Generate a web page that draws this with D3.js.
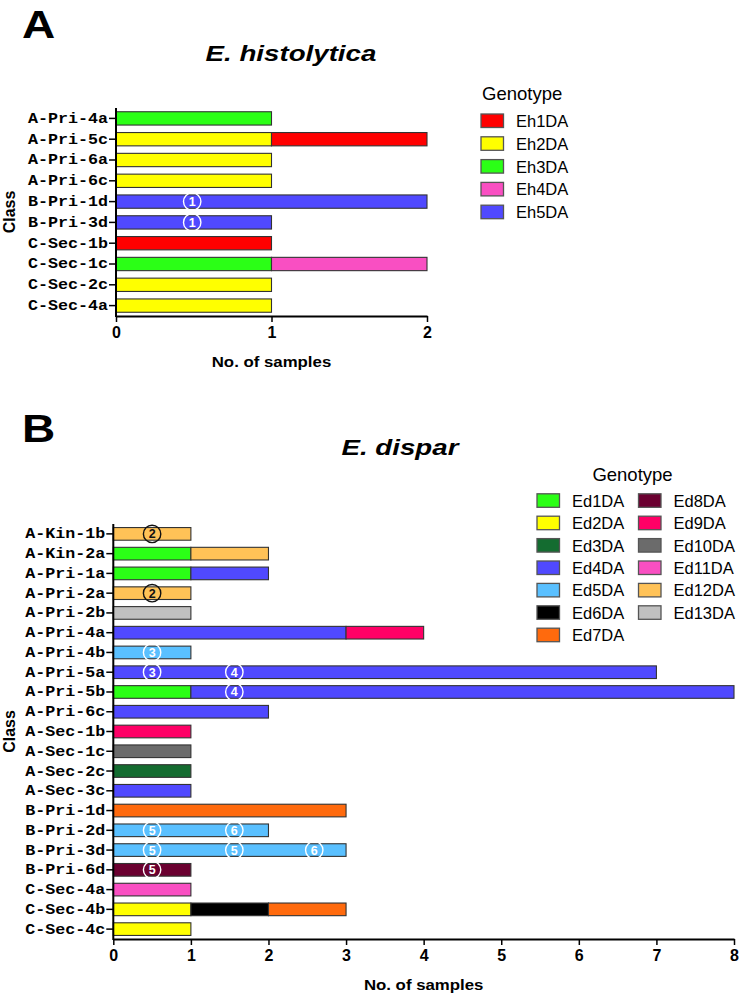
<!DOCTYPE html>
<html>
<head>
<meta charset="utf-8">
<script src="https://cdn.jsdelivr.net/npm/d3@7"></script>
<style>
  body { margin: 0; background: #fff; }
  svg { display: block; font-family: "Liberation Sans", Arial, sans-serif; }
</style>
</head>
<body>
<svg id="chart"></svg>
<script>
// ---- Panel A data (E. histolytica) ----
const classesA = ["A-Pri-4a", "A-Pri-5c", "A-Pri-6a", "A-Pri-6c", "B-Pri-1d",
                  "B-Pri-3d", "C-Sec-1b", "C-Sec-1c", "C-Sec-2c", "C-Sec-4a"];
const genotypesA = ["Eh1DA", "Eh2DA", "Eh3DA", "Eh4DA", "Eh5DA"];
// [class, genotype, samples] in stacking order
const segmentsA = [
  ["A-Pri-4a", "Eh3DA", 1],
  ["A-Pri-5c", "Eh2DA", 1], ["A-Pri-5c", "Eh1DA", 1],
  ["A-Pri-6a", "Eh2DA", 1],
  ["A-Pri-6c", "Eh2DA", 1],
  ["B-Pri-1d", "Eh5DA", 2],
  ["B-Pri-3d", "Eh5DA", 1],
  ["C-Sec-1b", "Eh1DA", 1],
  ["C-Sec-1c", "Eh3DA", 1], ["C-Sec-1c", "Eh4DA", 1],
  ["C-Sec-2c", "Eh2DA", 1],
  ["C-Sec-4a", "Eh2DA", 1]
];
// numbered markers: [class, position in samples, label]
const markersA = [["B-Pri-1d", 0.49, "1"], ["B-Pri-3d", 0.49, "1"]];
const ticksA = [0, 1, 2];

// ---- Panel B data (E. dispar) ----
const classesB = ["A-Kin-1b", "A-Kin-2a", "A-Pri-1a", "A-Pri-2a", "A-Pri-2b",
                  "A-Pri-4a", "A-Pri-4b", "A-Pri-5a", "A-Pri-5b", "A-Pri-6c",
                  "A-Sec-1b", "A-Sec-1c", "A-Sec-2c", "A-Sec-3c", "B-Pri-1d",
                  "B-Pri-2d", "B-Pri-3d", "B-Pri-6d", "C-Sec-4a", "C-Sec-4b", "C-Sec-4c"];
const genotypesB = ["Ed1DA", "Ed2DA", "Ed3DA", "Ed4DA", "Ed5DA", "Ed6DA", "Ed7DA",
                    "Ed8DA", "Ed9DA", "Ed10DA", "Ed11DA", "Ed12DA", "Ed13DA"];
const segmentsB = [
  ["A-Kin-1b", "Ed12DA", 1],
  ["A-Kin-2a", "Ed1DA", 1], ["A-Kin-2a", "Ed12DA", 1],
  ["A-Pri-1a", "Ed1DA", 1], ["A-Pri-1a", "Ed4DA", 1],
  ["A-Pri-2a", "Ed12DA", 1],
  ["A-Pri-2b", "Ed13DA", 1],
  ["A-Pri-4a", "Ed4DA", 3], ["A-Pri-4a", "Ed9DA", 1],
  ["A-Pri-4b", "Ed5DA", 1],
  ["A-Pri-5a", "Ed4DA", 7],
  ["A-Pri-5b", "Ed1DA", 1], ["A-Pri-5b", "Ed4DA", 7],
  ["A-Pri-6c", "Ed4DA", 2],
  ["A-Sec-1b", "Ed9DA", 1],
  ["A-Sec-1c", "Ed10DA", 1],
  ["A-Sec-2c", "Ed3DA", 1],
  ["A-Sec-3c", "Ed4DA", 1],
  ["B-Pri-1d", "Ed7DA", 3],
  ["B-Pri-2d", "Ed5DA", 2],
  ["B-Pri-3d", "Ed5DA", 3],
  ["B-Pri-6d", "Ed8DA", 1],
  ["C-Sec-4a", "Ed11DA", 1],
  ["C-Sec-4b", "Ed2DA", 1], ["C-Sec-4b", "Ed6DA", 1], ["C-Sec-4b", "Ed7DA", 1],
  ["C-Sec-4c", "Ed2DA", 1]
];
const markersB = [
  ["A-Kin-1b", 0.5, "2"], ["A-Pri-2a", 0.5, "2"],
  ["A-Pri-4b", 0.5, "3"], ["A-Pri-5a", 0.5, "3"],
  ["A-Pri-5a", 1.56, "4"], ["A-Pri-5b", 1.56, "4"],
  ["B-Pri-2d", 0.5, "5"], ["B-Pri-2d", 1.56, "6"],
  ["B-Pri-3d", 0.5, "5"], ["B-Pri-3d", 1.56, "5"], ["B-Pri-3d", 2.59, "6"],
  ["B-Pri-6d", 0.5, "5"]
];
const ticksB = [0, 1, 2, 3, 4, 5, 6, 7, 8];

// ---- colours ----
const colorsA = ["#ff0000", "#ffff00", "#2bff16", "#f94fc2", "#5049ff"];
const colorsB = ["#2bff16", "#ffff00", "#146c30", "#5049ff", "#5ac0ff", "#000000", "#ff6a0d",
                 "#6b0030", "#ff0066", "#6b6b6b", "#f94fc2", "#ffc257", "#c0c0c0"];
const darkInk = new Set(["Ed12DA"]);   // markers drawn in black on these

const svg = d3.select("#chart").attr("width", 739).attr("height", 996);

// widen text horizontally by factor k (the reference is slightly stretched)
function stretch(sel, k) {
  sel.each(function() {
    const w = this.getComputedTextLength();
    d3.select(this).attr("textLength", w * k).attr("lengthAdjust", "spacingAndGlyphs");
  });
}

function drawPanel(p) {
  const g = svg.append("g");
  const color = d3.scaleOrdinal().domain(p.genotypes).range(p.colors);

  const x = d3.scaleLinear().domain(p.xDomain).range([p.left, p.right]);
  const y = d3.scaleBand().domain(p.classes).range([p.top, p.bottom])
    .paddingInner(0.36).paddingOuter(0.18);

  // stack segments per class
  const offset = {};
  const bars = p.segments.map(([c, gt, n]) => {
    const x0 = offset[c] || 0;
    offset[c] = x0 + n;
    return {c, gt, x0, x1: x0 + n};
  });

  g.selectAll("rect.bar")
    .data(bars)
    .join("rect")
    .attr("class", "bar")
    .attr("x", d => x(d.x0))
    .attr("y", d => y(d.c))
    .attr("width", d => x(d.x1) - x(d.x0))
    .attr("height", y.bandwidth())
    .attr("fill", d => color(d.gt))
    .attr("stroke", "#333")
    .attr("stroke-width", 1.1);

  // numbered circles
  const mk = g.selectAll("g.mk")
    .data(p.markers.map(([c, v, t]) => {
      const seg = bars.find(b => b.c === c && v >= b.x0 && v <= b.x1);
      return {c, v, t, ink: darkInk.has(seg.gt) ? "#111" : "#fff"};
    }))
    .join("g")
    .attr("transform", d => `translate(${x(d.v)},${y(d.c) + y.bandwidth() / 2})`);
  mk.append("circle").attr("r", 8.7).attr("fill", "none")
    .attr("stroke", d => d.ink).attr("stroke-width", 1.4);
  mk.append("text").attr("text-anchor", "middle").attr("dy", "0.36em")
    .attr("fill", d => d.ink).style("font-size", "12.5px").style("font-weight", "bold")
    .text(d => d.t);

  // y axis
  const ya = g.append("g")
    .attr("transform", `translate(${p.left},0)`)
    .call(d3.axisLeft(y).tickSize(7).tickSizeOuter(0).tickPadding(1));
  ya.select(".domain").attr("stroke", "#000").attr("stroke-width", 2)
    .attr("d", `M0,${p.top}V${p.bottom + 1}`);
  ya.selectAll(".tick line").attr("stroke", "#000").attr("stroke-width", 1.5);
  ya.selectAll(".tick text")
    .attr("fill", "#000")
    .style("font-family", "'Liberation Mono', 'Courier New', monospace")
    .style("font-weight", "bold")
    .style("font-size", "14px")
    .call(stretch, 1.19);

  // x axis
  const xa = g.append("g")
    .attr("transform", `translate(0,${p.bottom})`)
    .call(d3.axisBottom(x).tickValues(p.ticks).tickFormat(d3.format("d"))
      .tickSize(6).tickSizeOuter(0).tickPadding(5));
  xa.select(".domain").attr("stroke", "#000").attr("stroke-width", 2);
  xa.selectAll(".tick line").attr("stroke", "#000").attr("stroke-width", 1.5);
  xa.selectAll(".tick text").attr("fill", "#000")
    .style("font-size", "16px").style("font-weight", "bold");

  // axis titles
  g.append("text")
    .attr("x", (p.left + p.right) / 2).attr("y", p.bottom + 51)
    .attr("text-anchor", "middle")
    .style("font-size", "15px").style("font-weight", "bold")
    .text("No. of samples").call(stretch, 1.12);

  g.append("text")
    .attr("transform", `translate(15,${(p.top + p.bottom) / 2}) rotate(-90)`)
    .attr("text-anchor", "middle")
    .style("font-size", "16px").style("font-weight", "bold")
    .text("Class");

  // panel letter and title
  g.append("text")
    .attr("x", 22).attr("y", p.letterY)
    .style("font-size", "39px").style("font-weight", "bold")
    .text(p.letter).call(stretch, 1.18);

  g.append("text")
    .attr("x", p.titleX).attr("y", p.titleY)
    .attr("text-anchor", "middle")
    .style("font-size", "22.5px").style("font-weight", "bold").style("font-style", "italic")
    .text(p.title).call(stretch, 1.23);

  // legend
  const lg = g.append("g");
  lg.append("text")
    .attr("x", p.legendTitleX).attr("y", p.legendTitleY)
    .attr("text-anchor", p.legendTitleAnchor)
    .style("font-size", "18.5px")
    .text("Genotype");

  const item = lg.selectAll("g.item")
    .data(p.genotypes)
    .join("g")
    .attr("transform", (d, i) => {
      const col = Math.floor(i / p.perCol), row = i % p.perCol;
      return `translate(${p.legendCols[col]},${p.legendY0 + row * p.legendStep})`;
    });
  item.append("rect")
    .attr("x", 0).attr("y", -6.8).attr("width", 22.5).attr("height", 13.5)
    .attr("fill", d => color(d)).attr("stroke", "#555").attr("stroke-width", 1.3);
  item.append("text")
    .attr("x", 35).attr("dy", "0.37em")
    .style("font-size", "16.5px")
    .text(d => d);
}

drawPanel({
  letter: "A", letterY: 37.5, title: "E. histolytica", titleX: 291, titleY: 61,
  classes: classesA, genotypes: genotypesA, colors: colorsA,
  segments: segmentsA, markers: markersA, ticks: ticksA, xDomain: [0, 2],
  left: 116, right: 427, top: 108, bottom: 316,
  legendTitleX: 482, legendTitleY: 100, legendTitleAnchor: "start",
  legendCols: [481], perCol: 5, legendY0: 120.8, legendStep: 22.8
});

drawPanel({
  letter: "B", letterY: 441.5, title: "E. dispar", titleX: 400, titleY: 454.5,
  classes: classesB, genotypes: genotypesB, colors: colorsB,
  segments: segmentsB, markers: markersB, ticks: ticksB, xDomain: [0, 8],
  left: 113.3, right: 734, top: 524, bottom: 939,
  legendTitleX: 632.5, legendTitleY: 481, legendTitleAnchor: "middle",
  legendCols: [537, 638.5], perCol: 7, legendY0: 500.6, legendStep: 22.4
});
</script>
</body>
</html>
